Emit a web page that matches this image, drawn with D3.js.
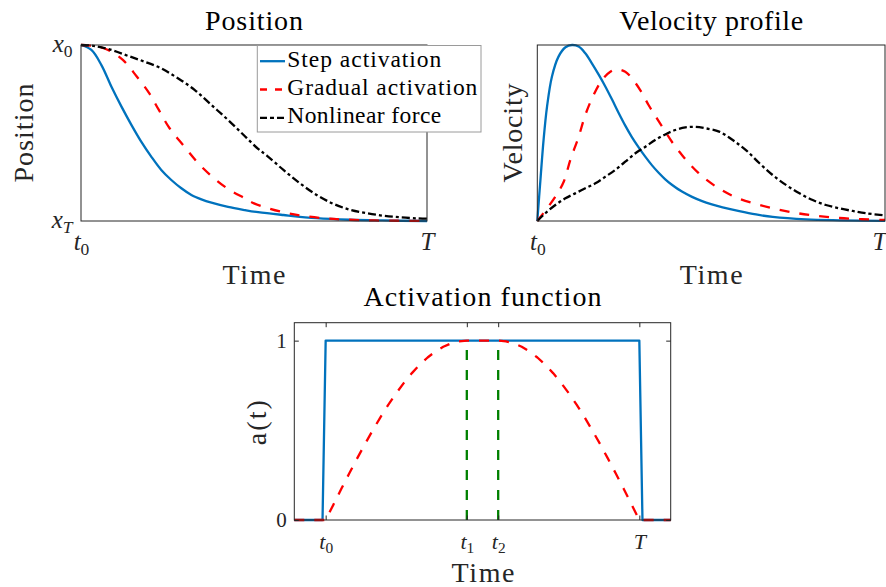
<!DOCTYPE html>
<html>
<head>
<meta charset="utf-8">
<script src="https://cdn.jsdelivr.net/npm/d3@7"></script>
<style>
  html, body { margin: 0; padding: 0; background: #fff; }
  svg { display: block; font-family: "Liberation Serif", serif; }
  text { font-family: "Liberation Serif", serif; fill: #262626; }
</style>
</head>
<body>
<script>
// ---------- data: normalised time t in [t0, T] = [0, 1] ----------

// Position (1 = x0, 0 = xT)
const positionStep = [[0,1],[0.03,0.972],[0.059,0.886],[0.088,0.763],[0.117,0.65],[0.146,0.545],[0.174,0.451],[0.203,0.366],[0.232,0.29],[0.261,0.233],[0.29,0.186],[0.319,0.148],[0.348,0.123],[0.377,0.104],[0.425,0.08],[0.474,0.062],[0.512,0.05],[0.585,0.034],[0.681,0.016],[0.777,0.007],[0.87,0.003],[1,0]];
const positionGradual = [[0,1],[0.04,0.993],[0.078,0.972],[0.121,0.915],[0.16,0.824],[0.196,0.729],[0.225,0.631],[0.256,0.527],[0.295,0.432],[0.335,0.337],[0.374,0.261],[0.422,0.186],[0.473,0.129],[0.5,0.1],[0.59,0.047],[0.647,0.028],[0.705,0.015],[0.763,0.008],[0.85,0.003],[1,0]];
const positionNonlinear = [[0,1],[0.04,0.994],[0.088,0.972],[0.136,0.938],[0.184,0.905],[0.232,0.867],[0.28,0.811],[0.329,0.744],[0.377,0.659],[0.425,0.574],[0.473,0.483],[0.512,0.41],[0.537,0.372],[0.585,0.29],[0.633,0.214],[0.681,0.148],[0.73,0.097],[0.777,0.064],[0.826,0.044],[0.874,0.03],[0.922,0.021],[0.97,0.015],[1,0.013]];

// Velocity (normalised to the step-activation peak)
const velocityStep = [[0,0],[0.009,0.233],[0.018,0.46],[0.028,0.65],[0.042,0.82],[0.061,0.934],[0.081,0.987],[0.1,1],[0.119,0.991],[0.138,0.953],[0.157,0.896],[0.177,0.83],[0.196,0.763],[0.215,0.69],[0.234,0.614],[0.253,0.542],[0.272,0.477],[0.292,0.417],[0.311,0.364],[0.33,0.316],[0.349,0.274],[0.368,0.237],[0.387,0.206],[0.416,0.167],[0.445,0.137],[0.474,0.113],[0.502,0.095],[0.533,0.078],[0.581,0.056],[0.629,0.037],[0.677,0.023],[0.773,0.009],[0.869,0.004],[1,0.001]];
const velocityGradual = [[0,0],[0.028,0.072],[0.052,0.138],[0.076,0.223],[0.095,0.347],[0.119,0.479],[0.138,0.602],[0.162,0.716],[0.186,0.801],[0.21,0.848],[0.229,0.862],[0.253,0.848],[0.272,0.811],[0.296,0.744],[0.32,0.659],[0.344,0.583],[0.368,0.508],[0.392,0.436],[0.416,0.375],[0.44,0.32],[0.464,0.272],[0.488,0.232],[0.528,0.178],[0.576,0.13],[0.634,0.094],[0.691,0.066],[0.749,0.044],[0.806,0.029],[0.869,0.017],[0.934,0.01],[1,0.006]];
const velocityNonlinear = [[0,0],[0.023,0.044],[0.052,0.091],[0.081,0.129],[0.109,0.157],[0.138,0.186],[0.167,0.214],[0.196,0.252],[0.224,0.29],[0.253,0.337],[0.282,0.385],[0.311,0.422],[0.339,0.46],[0.368,0.492],[0.397,0.517],[0.426,0.532],[0.454,0.535],[0.483,0.527],[0.523,0.508],[0.562,0.46],[0.6,0.403],[0.639,0.328],[0.677,0.261],[0.715,0.205],[0.754,0.157],[0.792,0.119],[0.83,0.091],[0.869,0.072],[0.907,0.057],[0.945,0.044],[1,0.032]];

// Activation a(t)
const activationStep = [[-0.1,0],[-0.01,0],[0,1],[1,1],[1.01,0],[1.1,0]];
const activationGradual = [[-0.1,0],[0,0],[0.025,0.087],[0.05,0.174],[0.075,0.259],[0.1,0.342],[0.125,0.423],[0.15,0.5],[0.175,0.574],[0.2,0.643],[0.225,0.707],[0.25,0.766],[0.275,0.819],[0.3,0.866],[0.325,0.906],[0.35,0.94],[0.375,0.966],[0.4,0.985],[0.425,0.996],[0.45,1],[0.55,1],[0.575,0.996],[0.6,0.985],[0.625,0.966],[0.65,0.94],[0.675,0.906],[0.7,0.866],[0.725,0.819],[0.75,0.766],[0.775,0.707],[0.8,0.643],[0.825,0.574],[0.85,0.5],[0.875,0.423],[0.9,0.342],[0.925,0.259],[0.95,0.174],[0.975,0.087],[1,0],[1.1,0]];
const phaseBoundaries = [0.45, 0.55];   // t1, t2

// Tick values and labels ("base_sub" -> base with subscript)
const timeTicks = [0, 1];
const timeTickLabels = ["t_0", "T"];
const positionTicks = [0, 1];
const positionTickLabels = ["x_T", "x_0"];
const activationTimeTicks = [0, 0.45, 0.55, 1];
const activationTimeTickLabels = ["t_0", "t_1", "t_2", "T"];
const activationTicks = [0, 1];
const activationTickLabels = ["0", "1"];

const legendLabels = ["Step activation", "Gradual activation", "Nonlinear force"];

// ---------- styles ----------
const AXIS = "#262626";
const SERIF = '"Liberation Serif", serif';
const styles = {
  step:      { color: "#0072BD", dash: null,        legendDash: null },
  gradual:   { color: "#FF0000", dash: "10,10",     legendDash: "7,8" },
  nonlinear: { color: "#000000", dash: "8,3,3,3",   legendDash: "7,3,4,3" },
  marker:    { color: "#008000", dash: "10,10" }
};
const LW = 2.3;

// ---------- canvas ----------
const svg = d3.select("body").append("svg").attr("width", 886).attr("height", 587);

const frames = {
  position:   { x0: 81,    x1: 427,   y0: 45,    y1: 221 },
  velocity:   { x0: 537.3, x1: 885,   y0: 45,    y1: 221 },
  activation: { x0: 294.3, x1: 670.7, y0: 322.7, y1: 520 }
};

// tick label with optional italic letters and a subscript
function mathLabel(sel, label, size) {
  const [base, sub] = label.split("_");
  const isLetter = s => /[A-Za-z]/.test(s);
  sel.text(null).attr("font-size", size).style("font-family", SERIF);
  sel.append("tspan").attr("font-style", isLetter(base) ? "italic" : "normal").text(base);
  if (sub) {
    sel.append("tspan")
      .attr("font-size", size * 0.7)
      .attr("dy", size * 0.2)
      .attr("font-style", isLetter(sub) ? "italic" : "normal")
      .text(sub);
  }
}

function styleAxis(g) {
  g.select(".domain").remove();
  g.attr("font-family", null).attr("color", AXIS);
  g.selectAll(".tick line").attr("stroke-width", 1);
}

function drawFrame(f) {
  svg.append("rect")
    .attr("x", f.x0).attr("y", f.y0)
    .attr("width", f.x1 - f.x0).attr("height", f.y1 - f.y0)
    .attr("fill", "none").attr("stroke", AXIS).attr("stroke-width", 1);
}

function drawLine(data, x, y, style, curve) {
  const line = d3.line().x(d => x(d[0])).y(d => y(d[1])).curve(curve);
  svg.append("path")
    .attr("d", line(data))
    .attr("fill", "none")
    .attr("stroke", style.color)
    .attr("stroke-width", LW)
    .attr("stroke-dasharray", style.dash)
    .attr("stroke-linejoin", "round");
}

function addText(str, x, y, size, opts = {}) {
  const t = svg.append("text")
    .attr("x", x).attr("y", y)
    .attr("font-size", size)
    .attr("text-anchor", opts.anchor || "middle")
    .style("font-family", SERIF)
    .style("fill", opts.fill || AXIS)
    .text(str);
  if (opts.length) t.attr("textLength", opts.length).attr("lengthAdjust", "spacing");
  if (opts.rotate) t.attr("transform", `rotate(-90,${x},${y})`);
  return t;
}

const smooth = d3.curveCatmullRom.alpha(0.5);

// ---------- Position panel ----------
{
  const f = frames.position;
  const x = d3.scaleLinear().domain([0, 1]).range([f.x0, f.x1]);
  const y = d3.scaleLinear().domain([0, 1]).range([f.y1, f.y0]);

  drawLine(positionStep, x, y, styles.step, smooth);
  drawLine(positionGradual, x, y, styles.gradual, smooth);
  drawLine(positionNonlinear, x, y, styles.nonlinear, smooth);
  drawFrame(f);

  const gx = svg.append("g").attr("transform", `translate(0,${f.y1})`)
    .call(d3.axisBottom(x).tickValues(timeTicks).tickFormat((d, i) => timeTickLabels[i]).tickSize(0));
  styleAxis(gx);
  gx.selectAll(".tick text").attr("y", 29).attr("dy", 0)
    .each(function () { mathLabel(d3.select(this), this.textContent, 25); });

  const gy = svg.append("g").attr("transform", `translate(${f.x0},0)`)
    .call(d3.axisLeft(y).tickValues(positionTicks).tickFormat((d, i) => positionTickLabels[i]).tickSize(0));
  styleAxis(gy);
  gy.selectAll(".tick text").attr("x", -8.5).attr("dy", 6.5)
    .each(function () { mathLabel(d3.select(this), this.textContent, 25); });

  addText("Position", (f.x0 + f.x1) / 2, 30, 28, { fill: "#000", length: 98 });
  addText("Time", (f.x0 + f.x1) / 2, 284, 28, { length: 63 });
  addText("Position", 33, (f.y0 + f.y1) / 2, 28, { rotate: true, length: 99 });

  // legend
  const lg = svg.append("g");
  lg.append("rect").attr("x", 257.3).attr("y", 45.5).attr("width", 223.7).attr("height", 86.5)
    .attr("fill", "#fff").attr("stroke", "#9a9a9a").attr("stroke-width", 1);
  const legendWidths = [154, 190, 154];
  [styles.step, styles.gradual, styles.nonlinear].forEach((s, i) => {
    const base = 66.7 + i * 28.3;
    lg.append("line").attr("x1", 260).attr("x2", 285).attr("y1", base - 5.5).attr("y2", base - 5.5)
      .attr("stroke", s.color).attr("stroke-width", LW).attr("stroke-dasharray", s.legendDash);
    lg.append("text").attr("x", 287.3).attr("y", base).attr("font-size", 23.5)
      .attr("textLength", legendWidths[i]).attr("lengthAdjust", "spacing")
      .style("font-family", SERIF).style("fill", "#000").text(legendLabels[i]);
  });
}

// ---------- Velocity panel ----------
{
  const f = frames.velocity;
  const x = d3.scaleLinear().domain([0, 1]).range([f.x0, f.x1]);
  const y = d3.scaleLinear().domain([0, 1]).range([f.y1, f.y0]);

  drawLine(velocityStep, x, y, styles.step, smooth);
  drawLine(velocityGradual, x, y, styles.gradual, smooth);
  drawLine(velocityNonlinear, x, y, styles.nonlinear, smooth);
  drawFrame(f);

  const gx = svg.append("g").attr("transform", `translate(0,${f.y1})`)
    .call(d3.axisBottom(x).tickValues(timeTicks).tickFormat((d, i) => timeTickLabels[i]).tickSize(0));
  styleAxis(gx);
  gx.selectAll(".tick text").attr("y", 29).attr("dy", 0)
    .each(function () { mathLabel(d3.select(this), this.textContent, 25); });
  // the right-hand label sits against the page edge
  gx.selectAll(".tick text").filter(d => d === 1).attr("text-anchor", "end").attr("x", 1);

  addText("Velocity profile", (f.x0 + f.x1) / 2, 30, 28, { fill: "#000", length: 184 });
  addText("Time", (f.x0 + f.x1) / 2, 284, 28, { length: 63 });
  addText("Velocity", 521.5, (f.y0 + f.y1) / 2, 28, { rotate: true, length: 99 });
}

// ---------- Activation panel ----------
{
  const f = frames.activation;
  const x = d3.scaleLinear().domain([-0.1, 1.1]).range([f.x0, f.x1]);
  const y = d3.scaleLinear().domain([0, 1.1]).range([f.y1, f.y0]);

  drawLine(activationStep, x, y, styles.step, d3.curveLinear);
  drawLine(activationGradual, x, y, styles.gradual, d3.curveLinear);
  phaseBoundaries.forEach(t => {
    drawLine([[t, 0], [t, 1]], x, y, styles.marker, d3.curveLinear);
  });
  drawFrame(f);

  const tick = 4.5;
  const gb = svg.append("g").attr("transform", `translate(0,${f.y1})`)
    .call(d3.axisBottom(x).tickValues(activationTimeTicks)
      .tickFormat((d, i) => activationTimeTickLabels[i]).tickSizeInner(-tick).tickSizeOuter(0));
  styleAxis(gb);
  gb.selectAll(".tick text").attr("y", 29).attr("dy", 0)
    .each(function () { mathLabel(d3.select(this), this.textContent, 22); });

  const gt = svg.append("g").attr("transform", `translate(0,${f.y0})`)
    .call(d3.axisTop(x).tickValues(activationTimeTicks).tickFormat("").tickSizeInner(-tick).tickSizeOuter(0));
  styleAxis(gt);

  const gl = svg.append("g").attr("transform", `translate(${f.x0},0)`)
    .call(d3.axisLeft(y).tickValues(activationTicks)
      .tickFormat((d, i) => activationTickLabels[i]).tickSizeInner(-tick).tickSizeOuter(0));
  styleAxis(gl);
  gl.selectAll(".tick text").attr("x", -7.6).attr("dy", 6.6).attr("font-size", 21).style("font-family", SERIF);

  const gr = svg.append("g").attr("transform", `translate(${f.x1},0)`)
    .call(d3.axisRight(y).tickValues(activationTicks).tickFormat("").tickSizeInner(-tick).tickSizeOuter(0));
  styleAxis(gr);

  addText("Activation function", (f.x0 + f.x1) / 2, 306, 28, { fill: "#000", length: 238 });
  addText("Time", 483, 582, 28, { length: 63 });
  addText("a(t)", 266, (f.y0 + f.y1) / 2 + 1.3, 28, { rotate: true, length: 45 });
}
</script>
</body>
</html>
